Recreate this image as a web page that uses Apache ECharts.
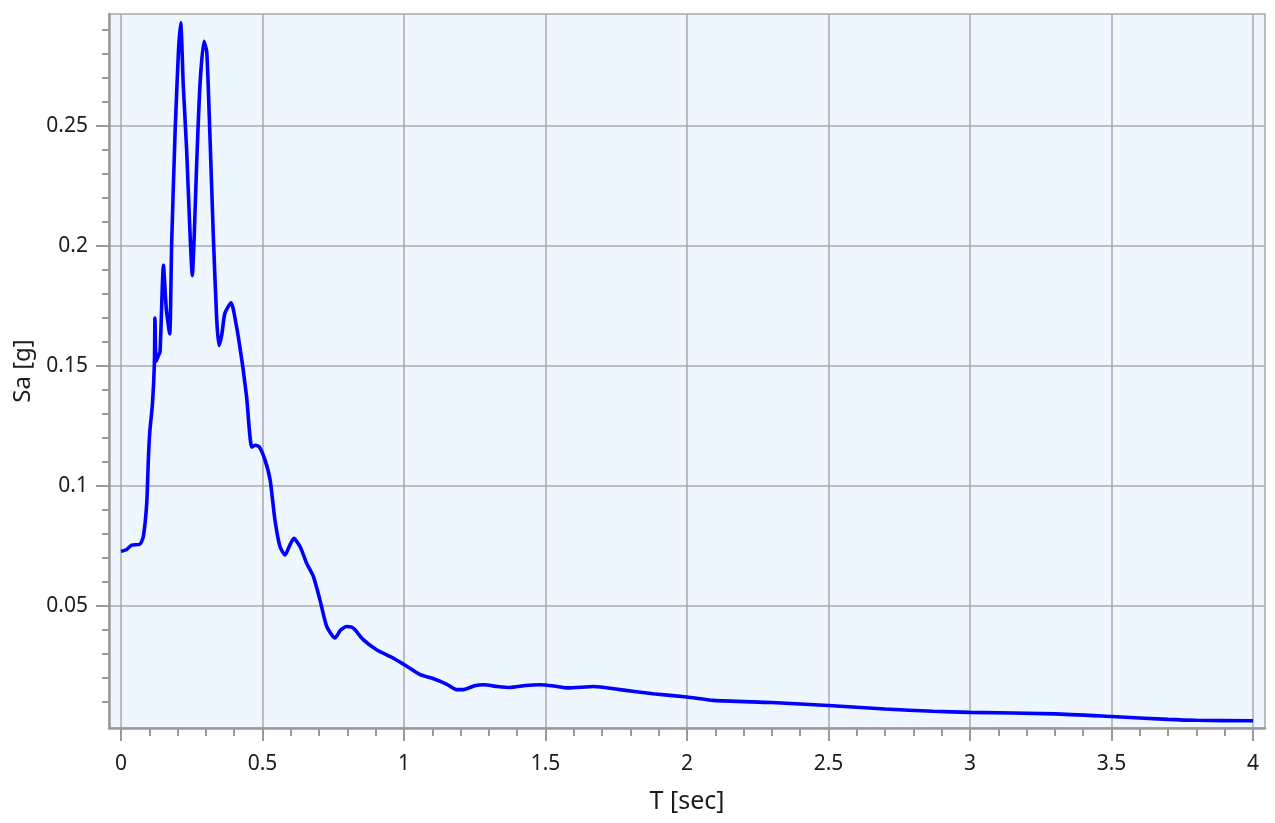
<!DOCTYPE html>
<html>
<head>
<meta charset="utf-8">
<script src="https://cdn.jsdelivr.net/npm/echarts@6/dist/echarts.min.js"></script>
<style>
  html, body { margin: 0; padding: 0; background: #ffffff; }
  #chart { width: 1275px; height: 823px; }
</style>
</head>
<body>
<div id="chart"></div>
<script>
// Period T [sec]
var periods = [
  0.000, 0.020, 0.038, 0.067, 0.079, 0.091, 0.097, 0.102, 0.111, 0.118,
  0.120, 0.124, 0.131, 0.138, 0.150, 0.160, 0.172, 0.179, 0.191, 0.203,
  0.211, 0.220, 0.232, 0.244, 0.252, 0.259, 0.267, 0.279, 0.293, 0.303,
  0.314, 0.326, 0.338, 0.346, 0.356, 0.367, 0.389, 0.409, 0.420, 0.430,
  0.444, 0.462, 0.475, 0.489, 0.509, 0.527, 0.544, 0.562, 0.580, 0.595,
  0.611, 0.633, 0.656, 0.680, 0.703, 0.727, 0.756, 0.776, 0.797, 0.815,
  0.827, 0.856, 0.903, 0.962, 1.010, 1.057, 1.100, 1.150, 1.186, 1.210,
  1.250, 1.280, 1.330, 1.374, 1.430, 1.480, 1.530, 1.580, 1.670, 1.763,
  1.880, 2.000, 2.093, 2.300, 2.500, 2.700, 2.870, 3.000, 3.300, 3.500,
  3.700, 3.800, 4.000
];
// Spectral acceleration Sa [g]
var saValues = [
  0.0728, 0.0736, 0.0754, 0.0758, 0.0790, 0.0930, 0.1120, 0.1230, 0.1340, 0.1510,
  0.1700, 0.1520, 0.1540, 0.1560, 0.1920, 0.1740, 0.1635, 0.2010, 0.2470, 0.2810,
  0.2930, 0.2670, 0.2400, 0.2050, 0.1877, 0.2050, 0.2330, 0.2670, 0.2853, 0.2810,
  0.2470, 0.2050, 0.1700, 0.1586, 0.1630, 0.1720, 0.1764, 0.1660, 0.1580, 0.1500,
  0.1370, 0.1163, 0.1170, 0.1163, 0.1108, 0.1025, 0.0859, 0.0747, 0.0713, 0.0750,
  0.0782, 0.0747, 0.0678, 0.0623, 0.0526, 0.0415, 0.0367, 0.0400, 0.0415, 0.0412,
  0.0401, 0.0360, 0.0318, 0.0283, 0.0249, 0.0214, 0.0199, 0.0175, 0.0152, 0.0152,
  0.0168, 0.0172, 0.0165, 0.0161, 0.0169, 0.0172, 0.0167, 0.0159, 0.0165, 0.0152,
  0.0135, 0.0121, 0.0107, 0.0098, 0.0086, 0.0071, 0.0062, 0.0057, 0.0051, 0.0040,
  0.0028, 0.0024, 0.0022
];
// Tick labels
var xMajorTicks = [0, 0.5, 1, 1.5, 2, 2.5, 3, 3.5, 4];
var xMinorTicks = [0.1, 0.2, 0.3, 0.4, 0.6, 0.7, 0.8, 0.9, 1.1, 1.2, 1.3, 1.4,
  1.6, 1.7, 1.8, 1.9, 2.1, 2.2, 2.3, 2.4, 2.6, 2.7, 2.8, 2.9, 3.1, 3.2, 3.3, 3.4,
  3.6, 3.7, 3.8, 3.9];
var yMajorTicks = [0.05, 0.1, 0.15, 0.2, 0.25];
var yMinorTicks = [0.01, 0.02, 0.03, 0.04, 0.06, 0.07, 0.08, 0.09, 0.11, 0.12,
  0.13, 0.14, 0.16, 0.17, 0.18, 0.19, 0.21, 0.22, 0.23, 0.24, 0.26, 0.27, 0.28, 0.29];
// Axis ranges
var xRange = [-0.0424, 4.0424];
var yRange = [-0.0008, 0.2967];

var seriesData = periods.map(function (t, i) { return [t, saValues[i]]; });

var FONT = '"Noto Sans", "Open Sans", sans-serif';
var TEXT = '#1b1b1b';
var GRIDC = '#a8a8a8';
var AXISC = '#9a9a9a';

var chart = echarts.init(document.getElementById('chart'), null, { renderer: 'canvas' });
chart.setOption({
  animation: false,
  backgroundColor: '#ffffff',
  grid: {
    left: 109, right: 10, top: 14, bottom: 95,
    containLabel: false,
    show: true,
    backgroundColor: '#eef6ff',
    borderColor: GRIDC,
    borderWidth: 1.5
  },
  xAxis: [{
    type: 'value',
    position: 'bottom',
    min: xRange[0], max: xRange[1],
    name: 'T [sec]',
    nameLocation: 'middle',
    nameGap: 61,
    nameTextStyle: { fontFamily: FONT, fontSize: 25, color: TEXT },
    axisLine: { show: true, onZero: false, lineStyle: { color: AXISC, width: 2.5 } },
    axisTick: { show: true, inside: false, length: 13, customValues: xMajorTicks, lineStyle: { color: AXISC, width: 2 } },
    axisLabel: { show: true, customValues: xMajorTicks, margin: 26, fontFamily: FONT, fontSize: 21, color: TEXT },
    splitLine: { show: true, lineStyle: { color: GRIDC, width: 1.5 } }
  }, {
    type: 'value',
    position: 'bottom',
    offset: 0,
    min: xRange[0], max: xRange[1],
    axisLine: { show: false, onZero: false },
    axisTick: { show: true, inside: false, length: 8, customValues: xMinorTicks, lineStyle: { color: AXISC, width: 2 } },
    axisLabel: { show: false },
    splitLine: { show: false }
  }],
  yAxis: [{
    type: 'value',
    position: 'left',
    min: yRange[0], max: yRange[1],
    name: 'Sa [g]',
    nameLocation: 'middle',
    nameGap: 68,
    nameTextStyle: { fontFamily: FONT, fontSize: 24, color: TEXT },
    axisLine: { show: true, onZero: false, lineStyle: { color: AXISC, width: 2.5 } },
    axisTick: { show: true, inside: false, length: 13, customValues: yMajorTicks, lineStyle: { color: AXISC, width: 2 } },
    axisLabel: { show: true, customValues: yMajorTicks, margin: 21, fontFamily: FONT, fontSize: 21, color: TEXT },
    splitLine: { show: true, lineStyle: { color: GRIDC, width: 1.5 } }
  }, {
    type: 'value',
    position: 'left',
    offset: 0,
    min: yRange[0], max: yRange[1],
    axisLine: { show: false, onZero: false },
    axisTick: { show: true, inside: false, length: 7, customValues: yMinorTicks, lineStyle: { color: AXISC, width: 2 } },
    axisLabel: { show: false },
    splitLine: { show: false }
  }],
  series: [{
    type: 'line',
    xAxisIndex: 0,
    yAxisIndex: 0,
    data: seriesData,
    showSymbol: false,
    symbol: 'none',
    smooth: 0.2,
    lineStyle: { color: '#0000ff', width: 3.6 },
    z: 5
  }]
});
</script>
</body>
</html>
